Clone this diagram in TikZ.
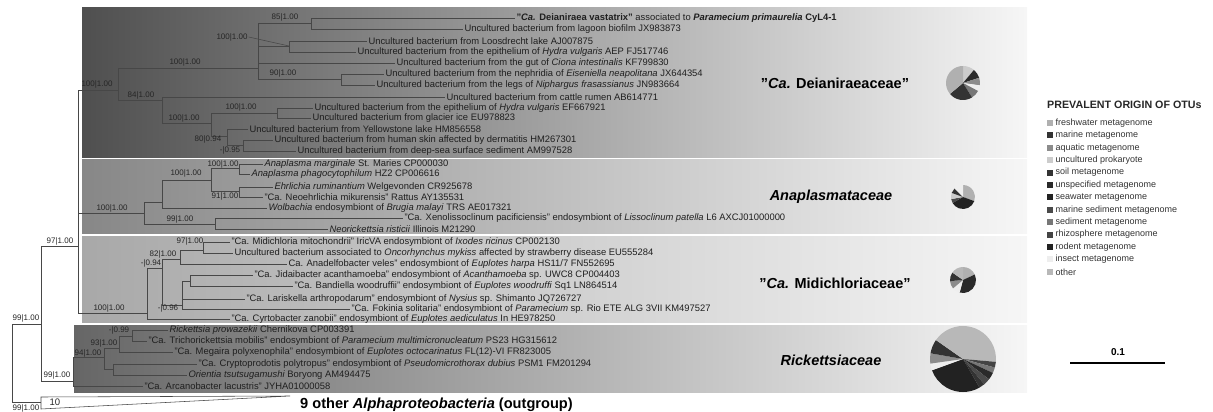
\documentclass[tikz,border=0pt]{standalone}
\usepackage{fontspec}
\setmainfont{Liberation Sans}
\definecolor{deiL}{gray}{0.31}
\definecolor{anaL}{gray}{0.53}
\definecolor{midL}{gray}{0.66}
\definecolor{ricL}{gray}{0.40}
\definecolor{panR}{gray}{0.965}
\definecolor{lg1}{HTML}{B0B0B0}
\definecolor{lg2}{HTML}{333333}
\definecolor{lg3}{HTML}{8C8C8C}
\definecolor{lg4}{HTML}{CCCCCC}
\definecolor{lg5}{HTML}{333333}
\definecolor{lg6}{HTML}{2A2A2A}
\definecolor{lg7}{HTML}{222222}
\definecolor{lg8}{HTML}{4A4A4A}
\definecolor{lg9}{HTML}{777777}
\definecolor{lg10}{HTML}{444444}
\definecolor{lg11}{HTML}{222222}
\definecolor{lg12}{HTML}{EEEEEE}
\definecolor{lg13}{HTML}{B8B8B8}
\newcommand\pieslice[4]{\fill[#4] (0,0) -- (#1:#3) arc[start angle=#1,end angle=#2,radius=#3] -- cycle;}
\begin{document}
\begin{tikzpicture}[x=1pt,y=-1pt,
 tx/.style={anchor=west, inner sep=1.3pt, font=\fontsize{9.4}{10}\selectfont, text=black!88},
 bsl/.style={inner sep=0pt, font=\fontsize{8}{9}\selectfont, text=black!85},
 br/.style={draw=black!72, line width=0.55pt},
 fam/.style={font=\fontsize{14.5}{16}\selectfont\bfseries, text=black},
 leg/.style={anchor=west, inner sep=0pt, font=\fontsize{9}{10}\selectfont, text=black!80},
 legsq/.style={minimum size=6pt, inner sep=0pt},
]
\useasboundingbox (0,0) rectangle (1213,412);
% panels
\fill[left color=deiL, right color=panR] (82,8) rectangle (1027,157);
\fill[left color=anaL, right color=panR] (82,159) rectangle (1027,233);
\fill[left color=midL, right color=panR] (82,236) rectangle (1027,322);
\fill[left color=ricL, right color=panR] (74,325) rectangle (1027,392);

% internal nodes
\coordinate (root) at (12,364);
\coordinate (A) at (41,324);
\coordinate (B) at (78,246);
\coordinate (R) at (73,381);
\coordinate (og) at (41,402);
\coordinate (D) at (118,90);
\coordinate (D1) at (258,68);
\coordinate (D11) at (311,23);
\coordinate (D12) at (289,46);
\coordinate (D13) at (341,79);
\coordinate (D2) at (162,100);
\coordinate (D21) at (211,123);
\coordinate (D211) at (277,113);
\coordinate (D212) at (227,136);
\coordinate (D2121) at (243,145);
\coordinate (Ana) at (144,213);
\coordinate (A1) at (162,202);
\coordinate (A11) at (211,180);
\coordinate (A111) at (239,168);
\coordinate (A112) at (239,191);
\coordinate (A2) at (215,224);
\coordinate (Mid) at (147,313);
\coordinate (M1) at (162,268);
\coordinate (M11) at (180,259);
\coordinate (M111) at (203,250);
\coordinate (M12) at (182,305);
\coordinate (M121) at (190,281);
\coordinate (R1) at (104,357);
\coordinate (R11) at (119,348);
\coordinate (R111) at (132,336);
\coordinate (R12) at (113,369);

% tips: Deianiraeaceae
\node[tx] (t1) at (515,18) {\textbf{"\textit{Ca.} Deianiraea vastatrix"} associated to \textbf{\textit{Paramecium primaurelia} CyL4-1}};
\node[tx] (t2) at (463,29) {Uncultured bacterium from lagoon biofilm JX983873};
\node[tx] (t3) at (367,41) {Uncultured bacterium from Loosdrecht lake AJ007875};
\node[tx] (t4) at (356,52) {Uncultured bacterium from the epithelium of \textit{Hydra vulgaris} AEP FJ517746};
\node[tx] (t5) at (395,63) {Uncultured bacterium from the gut of \textit{Ciona intestinalis} KF799830};
\node[tx] (t6) at (384,74) {Uncultured bacterium from the nephridia of \textit{Eiseniella neapolitana} JX644354};
\node[tx] (t7) at (375,85) {Uncultured bacterium from the legs of \textit{Niphargus frasassianus} JN983664};
\node[tx] (t8) at (445,97) {Uncultured bacterium from cattle rumen AB614771};
\node[tx] (t9) at (313,108) {Uncultured bacterium from the epithelium of \textit{Hydra vulgaris} EF667921};
\node[tx] (t10) at (311,118) {Uncultured bacterium from glacier ice EU978823};
\node[tx] (t11) at (248,129) {Uncultured bacterium from Yellowstone lake HM856558};
\node[tx] (t12) at (273,140) {Uncultured bacterium from human skin affected by dermatitis HM267301};
\node[tx] (t13) at (296,151) {Uncultured bacterium from deep-sea surface sediment AM997528};
% Anaplasmataceae
\node[tx] (a1) at (263,164) {\textit{Anaplasma marginale} St. Maries CP000030};
\node[tx] (a2) at (250,174) {\textit{Anaplasma phagocytophilum} HZ2 CP006616};
\node[tx] (a3) at (273,187) {\textit{Ehrlichia ruminantium} Welgevonden CR925678};
\node[tx] (a4) at (263,197) {"Ca. Neoehrlichia mikurensis" Rattus AY135531};
\node[tx] (a5) at (267,208) {\textit{Wolbachia} endosymbiont of \textit{Brugia malayi} TRS AE017321};
\node[tx] (a6) at (403,218) {"Ca. Xenolissoclinum pacificiensis" endosymbiont of \textit{Lissoclinum patella} L6 AXCJ01000000};
\node[tx] (a7) at (328,229) {\textit{Neorickettsia risticii} Illinois M21290};
% Midichloriaceae
\node[tx] (m1) at (230,242) {"Ca. Midichloria mitochondrii" IricVA endosymbiont of \textit{Ixodes ricinus} CP002130};
\node[tx] (m2) at (233,253) {Uncultured bacterium associated to \textit{Oncorhynchus mykiss} affected by strawberry disease EU555284};
\node[tx] (m3) at (287,264) {Ca. Anadelfobacter veles" endosymbiont of \textit{Euplotes harpa} HS11/7 FN552695};
\node[tx] (m4) at (253,275) {"Ca. Jidaibacter acanthamoeba" endosymbiont of \textit{Acanthamoeba} sp. UWC8 CP004403};
\node[tx] (m5) at (293,286) {"Ca. Bandiella woodruffii" endosymbiont of \textit{Euplotes woodruffi} Sq1 LN864514};
\node[tx] (m6) at (245,299) {"Ca. Lariskella arthropodarum" endosymbiont of \textit{Nysius} sp. Shimanto JQ726727};
\node[tx] (m7) at (350,309) {"Ca. Fokinia solitaria" endosymbiont of \textit{Paramecium} sp. Rio ETE ALG 3VII KM497527};
\node[tx] (m8) at (230,319) {"Ca. Cyrtobacter zanobii" endosymbiont of \textit{Euplotes aediculatus} In HE978250};
% Rickettsiaceae
\node[tx] (r1) at (168,330) {\textit{Rickettsia prowazekii} Chernikova CP003391};
\node[tx] (r2) at (147,341) {"Ca. Trichorickettsia mobilis" endosymbiont of \textit{Paramecium multimicronucleatum} PS23 HG315612};
\node[tx] (r3) at (173,352) {"Ca. Megaira polyxenophila" endosymbiont of \textit{Euplotes octocarinatus} FL(12)-VI FR823005};
\node[tx] (r4) at (197,364) {"Ca. Cryptoprodotis polytropus" endosymbiont of \textit{Pseudomicrothorax dubius} PSM1 FM201294};
\node[tx] (r5) at (187,375) {\textit{Orientia tsutsugamushi} Boryong AM494475};
\node[tx] (r6) at (143,386) {"Ca. Arcanobacter lacustris" JYHA01000058};

% branches
\draw[br] (root) |- (A); \draw[br] (root) |- (og);
\draw[br] (A) |- (B); \draw[br] (A) |- (R);
\draw[br] (B) |- (D); \draw[br] (B) |- (Ana); \draw[br] (B) |- (Mid);
\draw[br] (D) |- (D1); \draw[br] (D) |- (D2);
\draw[br] (D1) |- (D11); \draw[br] (D1) |- (D12); \draw[br] (D1) |- (t5.west); \draw[br] (D1) |- (D13);
\draw[br] (D11) |- (t1.west); \draw[br] (D11) |- (t2.west);
\draw[br] (D12) |- (t3.west); \draw[br] (D12) |- (t4.west);
\draw[br] (D13) |- (t6.west); \draw[br] (D13) |- (t7.west);
\draw[br] (D2) |- (t8.west); \draw[br] (D2) |- (D21);
\draw[br] (D21) |- (D211); \draw[br] (D21) |- (D212);
\draw[br] (D211) |- (t9.west); \draw[br] (D211) |- (t10.west);
\draw[br] (D212) |- (t11.west); \draw[br] (D212) |- (D2121);
\draw[br] (D2121) |- (t12.west); \draw[br] (D2121) |- (t13.west);
\draw[br] (Ana) |- (A1); \draw[br] (Ana) |- (A2);
\draw[br] (A1) |- (A11); \draw[br] (A1) |- (a5.west);
\draw[br] (A11) |- (A111); \draw[br] (A11) |- (A112);
\draw[br] (A111) |- (a1.west); \draw[br] (A111) |- (a2.west);
\draw[br] (A112) |- (a3.west); \draw[br] (A112) |- (a4.west);
\draw[br] (A2) |- (a6.west); \draw[br] (A2) |- (a7.west);
\draw[br] (Mid) |- (M1); \draw[br] (Mid) |- (m8.west);
\draw[br] (M1) |- (M11); \draw[br] (M1) |- (M12);
\draw[br] (M11) |- (M111); \draw[br] (M11) |- (m3.west);
\draw[br] (M111) |- (m1.west); \draw[br] (M111) |- (m2.west);
\draw[br] (M12) |- (M121); \draw[br] (M12) |- (m6.west); \draw[br] (M12) |- (m7.west);
\draw[br] (M121) |- (m4.west); \draw[br] (M121) |- (m5.west);
\draw[br] (R) |- (R1); \draw[br] (R) |- (r6.west);
\draw[br] (R1) |- (R11); \draw[br] (R1) |- (R12);
\draw[br] (R11) |- (R111); \draw[br] (R11) |- (r3.west);
\draw[br] (R111) |- (r1.west); \draw[br] (R111) |- (r2.west);
\draw[br] (R12) |- (r4.west); \draw[br] (R12) |- (r5.west);
% collapsed outgroup
\draw[br] (og) ++(0,-5) -- ++(249,-1) -- (41,409) -- cycle;
\node[font=\fontsize{9.5}{10}\selectfont, text=black!85] (ten) at (55,402) {10};
\node[anchor=west, inner sep=0pt, font=\fontsize{14.6}{17}\selectfont\bfseries] (ogl) at (300,405) {9 other \textit{Alphaproteobacteria} (outgroup)};

% support labels
\node[bsl] (s1) at (97,84) {100|1.00};
\node[bsl] (s2) at (185,62) {100|1.00};
\node[bsl] (s3) at (141,95) {84|1.00};
\node[bsl] (s4) at (285,17) {85|1.00};
\node[bsl] (s5) at (232,37) {100|1.00};
\draw[br] (s5.east) ++(1,0) -- (D12);
\node[bsl] (s6) at (283,73) {90|1.00};
\node[bsl] (s7) at (184,118) {100|1.00};
\node[bsl] (s8) at (241,107) {100|1.00};
\node[bsl] (s9) at (208,139) {80|0.94};
\node[bsl] (s10) at (230,150) {-|0.95};
\node[bsl] (s11) at (112,208) {100|1.00};
\node[bsl] (s12) at (186,173) {100|1.00};
\node[bsl] (s13) at (223,164) {100|1.00};
\node[bsl] (s14) at (225,196) {91|1.00};
\node[bsl] (s15) at (180,219) {99|1.00};
\node[bsl] (s16) at (109,308) {100|1.00};
\node[bsl] (s17) at (60,241) {97|1.00};
\node[bsl] (s18) at (163,254) {82|1.00};
\node[bsl] (s19) at (151,263) {-|0.94};
\node[bsl] (s20) at (190,241) {97|1.00};
\node[bsl] (s21) at (168,308) {-|0.96};
\node[bsl] (s22) at (26,318) {99|1.00};
\node[bsl] (s23) at (57,375) {99|1.00};
\node[bsl] (s24) at (88,353) {94|1.00};
\node[bsl] (s25) at (104,343) {93|1.00};
\node[bsl] (s26) at (119,330) {-|0.99};
\node[bsl] (s27) at (26,408) {99|1.00};

% family labels
\node[fam] (famD) at (835,83) {"\textit{Ca.} Deianiraeaceae"};
\node[fam] (famA) at (831,197) {\textit{Anaplasmataceae}};
\node[fam] (famM) at (835,283) {"\textit{Ca.} Midichloriaceae"};
\node[fam] (famR) at (831,360) {\textit{Rickettsiaceae}};

% pies
\begin{scope}[shift={(963,83)}]
\pieslice{90}{50}{17pt}{lg4}
\pieslice{50}{18}{17pt}{lg6}
\pieslice{18}{-8}{17pt}{lg3}
\pieslice{-8}{-28}{17pt}{lg12}
\pieslice{-28}{-58}{17pt}{lg9}
\pieslice{-58}{-140}{17pt}{lg2}
\pieslice{-140}{-270}{17pt}{lg1}
\end{scope}
\begin{scope}[shift={(963,197)}]
\pieslice{90}{-20}{12pt}{lg1}
\pieslice{-20}{-150}{12pt}{lg7}
\pieslice{-150}{-170}{12pt}{lg8}
\pieslice{-170}{-200}{12pt}{lg4}
\pieslice{-200}{-225}{12pt}{lg2}
\pieslice{-225}{-270}{12pt}{lg12}
\end{scope}
\begin{scope}[shift={(963,280)}]
\pieslice{90}{25}{13pt}{lg1}
\pieslice{25}{-105}{13pt}{lg6}
\pieslice{-105}{-140}{13pt}{lg12}
\pieslice{-140}{-175}{13pt}{lg3}
\pieslice{-175}{-215}{13pt}{lg2}
\pieslice{-215}{-270}{13pt}{lg13}
\end{scope}
\begin{scope}[shift={(963,359)}]
\pieslice{90}{-5}{33pt}{lg13}
\pieslice{-5}{-15}{33pt}{lg10}
\pieslice{-15}{-25}{33pt}{lg9}
\pieslice{-25}{-38}{33pt}{lg6}
\pieslice{-38}{-50}{33pt}{lg8}
\pieslice{-50}{-60}{33pt}{lg2}
\pieslice{-60}{-160}{33pt}{lg7}
\pieslice{-160}{-172}{33pt}{lg12}
\pieslice{-172}{-190}{33pt}{lg3}
\pieslice{-190}{-215}{33pt}{lg2}
\pieslice{-215}{-270}{33pt}{lg13}
\end{scope}

% legend
\node[anchor=west, inner sep=0pt, font=\fontsize{10.7}{12}\selectfont\bfseries, text=black!85] (legT) at (1047,105) {PREVALENT ORIGIN OF OTUs};
\foreach \c/\t [count=\i from 0] in {lg1/freshwater metagenome, lg2/marine metagenome, lg3/aquatic metagenome, lg4/uncultured prokaryote, lg5/soil metagenome, lg6/unspecified metagenome, lg7/seawater metagenome, lg8/marine sediment metagenome, lg9/sediment metagenome, lg10/rhizosphere metagenome, lg11/rodent metagenome, lg12/insect metagenome, lg13/other}{
  \node[legsq, fill=\c] (sq\i) at (1050,123+12.4*\i) {};
  \node[leg] (lt\i) at (1055.5,123+12.4*\i) {\t};
}
% scale bar
\node[font=\fontsize{10}{11}\selectfont\bfseries] (sbl) at (1118,352) {0.1};
\coordinate (sb1) at (1070,363);
\coordinate (sb2) at (1165,363);
\draw[line width=2.5pt, black] (sb1) -- (sb2);
\end{tikzpicture}
\end{document}
